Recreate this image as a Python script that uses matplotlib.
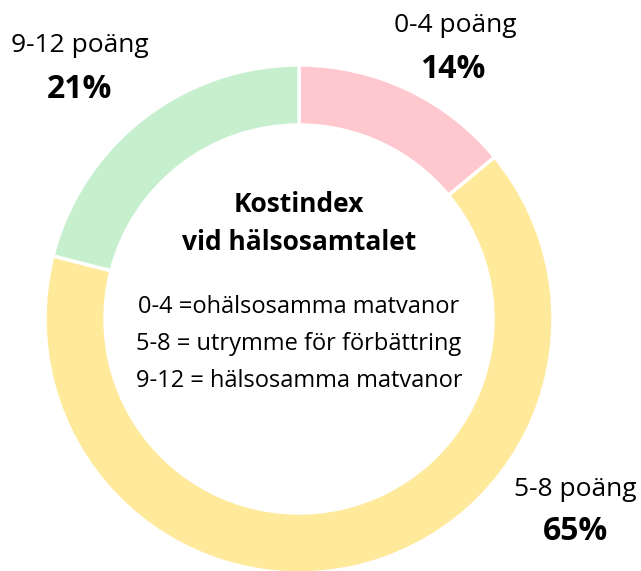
import matplotlib
matplotlib.use("Agg")
import matplotlib.pyplot as plt

# data
labels = ["0-4 poäng", "5-8 poäng", "9-12 poäng"]
shares = [14, 65, 21]
colors = ["#FFC7CE", "#FFE99B", "#C6EFCE"]
title_lines = ["Kostindex", "vid hälsosamtalet"]
legend_lines = ["0-4 =ohälsosamma matvanor",
                "5-8 = utrymme för förbättring",
                "9-12 = hälsosamma matvanor"]

plt.rcParams['font.family'] = ['Open Sans', 'DejaVu Sans']

W, H = 641, 571
fig = plt.figure(figsize=(W / 100, H / 100), dpi=100)
ax = fig.add_axes([0, 0, 1, 1])

# work in pixel units, y measured downward as negative values
cx, cy, r = 299, 319, 254
ax.pie(shares, colors=colors, startangle=90, counterclock=False,
       center=(cx, -cy), radius=r,
       wedgeprops=dict(width=60, edgecolor='white', linewidth=2.5))
ax.set_xlim(0, W)
ax.set_ylim(-H, 0)
ax.set_aspect('equal')
ax.axis('off')

# label positions (pixels from top)
lab_pos = [(455, 25), (575, 490), (80, 46)]
pct_pos = [(453, 70), (575, 531), (80, 90)]
for lab, s, (lx, ly), (px, py) in zip(labels, shares, lab_pos, pct_pos):
    ax.text(lx, -ly, lab, ha='center', va='center', fontsize=19)
    ax.text(px, -py, f"{s}%", ha='center', va='center', fontsize=23,
            fontweight='bold')

for i, t in enumerate(title_lines):
    ax.text(cx, -(205 + 38 * i), t, ha='center', va='center', fontsize=19,
            fontweight='bold')
for i, t in enumerate(legend_lines):
    ax.text(cx, -(307 + 37 * i), t, ha='center', va='center', fontsize=17)

fig.savefig("out.png", dpi=100)
